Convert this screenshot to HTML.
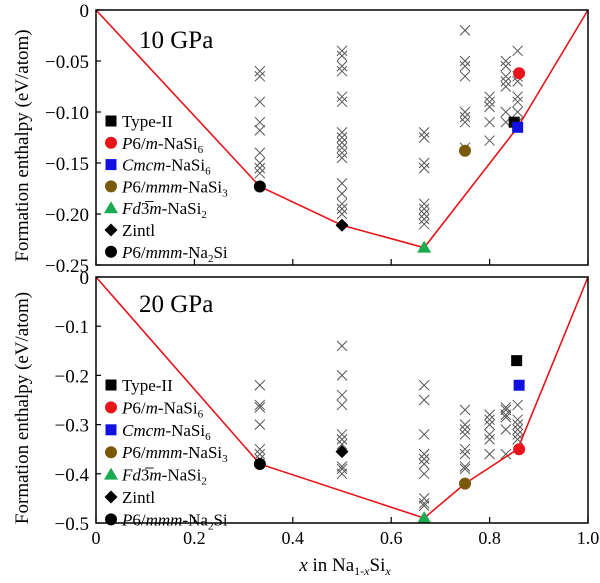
<!DOCTYPE html>
<html><head><meta charset="utf-8"><style>
body{margin:0;background:#fff;}
svg text{font-family:"Liberation Serif",serif;fill:#000;}
</style></head><body>
<svg id="c" width="600" height="578" xmlns="http://www.w3.org/2000/svg"></svg>
<script>
const NS="http://www.w3.org/2000/svg";
const xTicks=[0,0.2,0.4,0.6,0.8,1.0];
const xTickLabels=["0","0.2","0.4","0.6","0.8","1.0"];
const topTicks=[0,-0.05,-0.10,-0.15,-0.20,-0.25];
const topTickLabels=["0","\u22120.05","\u22120.10","\u22120.15","\u22120.20","\u22120.25"];
const botTicks=[0,-0.1,-0.2,-0.3,-0.4,-0.5];
const botTickLabels=["0","\u22120.1","\u22120.2","\u22120.3","\u22120.4","\u22120.5"];
const topHullX=[0,0.333,0.5,0.667,0.857,1];
const topHullY=[0,-0.173,-0.211,-0.233,-0.115,0];
const botHullX=[0,0.333,0.667,0.75,0.857,1];
const botHullY=[0,-0.38,-0.49,-0.42,-0.35,0];
const topCrossX=[0.333,0.5,0.667,0.75,0.8,0.833,0.857];
const topCrossY=[
[-0.06,-0.065,-0.09,-0.11,-0.118,-0.14,-0.15,-0.155,-0.16],
[-0.04,-0.045,-0.055,-0.06,-0.085,-0.09,-0.12,-0.125,-0.13,-0.135,-0.14,-0.145,-0.17,-0.18,-0.19,-0.195,-0.2],
[-0.12,-0.125,-0.15,-0.155,-0.19,-0.195,-0.2,-0.205,-0.21],
[-0.02,-0.05,-0.055,-0.065,-0.1,-0.105,-0.11,-0.135],
[-0.085,-0.09,-0.095,-0.11,-0.128],
[-0.05,-0.055,-0.065,-0.07,-0.075,-0.1,-0.11],
[-0.04,-0.065,-0.07,-0.085,-0.09,-0.1,-0.11]];
const botCrossX=[0.333,0.5,0.667,0.75,0.8,0.833,0.857];
const botCrossY=[
[-0.22,-0.26,-0.265,-0.3,-0.35,-0.36,-0.37],
[-0.14,-0.2,-0.24,-0.26,-0.32,-0.33,-0.34,-0.385,-0.39,-0.4],
[-0.22,-0.25,-0.32,-0.36,-0.37,-0.38,-0.4,-0.45,-0.46,-0.465],
[-0.27,-0.3,-0.31,-0.32,-0.35,-0.36,-0.385,-0.39],
[-0.28,-0.29,-0.3,-0.32,-0.33,-0.36],
[-0.265,-0.27,-0.28,-0.285,-0.31,-0.36],
[-0.26,-0.29,-0.3,-0.31,-0.32,-0.33]];
const topSpecialNames=["type-ii","p6m-nasi6","cmcm-nasi6","p6mmm-nasi3","fd3m-nasi2","zintl","p6mmm-na2si"];
const topSpecialX=[0.85,0.86,0.857,0.75,0.667,0.5,0.333];
const topSpecialY=[-0.11,-0.062,-0.115,-0.138,-0.233,-0.211,-0.173];
const botSpecialX=[0.855,0.86,0.86,0.75,0.667,0.5,0.333];
const botSpecialY=[-0.17,-0.35,-0.22,-0.42,-0.49,-0.355,-0.38];
const legendLabels=[
 'Type-II',
 '<tspan font-style="italic">P</tspan>6/<tspan font-style="italic">m</tspan>-NaSi<tspan font-size="11" dy="4">6</tspan>',
 '<tspan font-style="italic">Cmcm</tspan>-NaSi<tspan font-size="11" dy="4">6</tspan>',
 '<tspan font-style="italic">P</tspan>6/<tspan font-style="italic">mmm</tspan>-NaSi<tspan font-size="11" dy="4">3</tspan>',
 '<tspan font-style="italic">Fd</tspan>3\u0305<tspan font-style="italic">m</tspan>-NaSi<tspan font-size="11" dy="4">2</tspan>',
 'Zintl',
 '<tspan font-style="italic">P</tspan>6/<tspan font-style="italic">mmm</tspan>-Na<tspan font-size="11" dy="4">2</tspan><tspan dy="-4">Si</tspan>'];
const colors=["#000","#e8141a","#1010e0","#7a5a0a","#1aaa50","#000","#000"];
const shapes=["sq","ci","sq","ci","tri","dia","ci"];

const svg=document.getElementById('c');
const X0=96,X1=588;
const sx=v=>X0+v*(X1-X0);
function el(tag,attrs,parent){const e=document.createElementNS(NS,tag);for(const k in attrs)e.setAttribute(k,attrs[k]);(parent||svg).appendChild(e);return e;}

function marker(g,shape,x,y,col){
  if(shape==="sq") return el('rect',{x:x-5.5,y:y-5.5,width:11,height:11,fill:col},g);
  if(shape==="ci") return el('circle',{cx:x,cy:y,r:6,fill:col},g);
  if(shape==="tri") return el('polygon',{points:`${x},${y-7} ${x-7},${y+5} ${x+7},${y+5}`,fill:col},g);
  return el('polygon',{points:`${x},${y-6.5} ${x+6.5},${y} ${x},${y+6.5} ${x-6.5},${y}`,fill:col},g);
}

function panel(name,yTop,yBot,vMin,ticks,tickLabels,hx,hy,cx,cy,spX,spY,title,titleY,legendY0,legendDy,showXLabels){
  const g=el('g',{});
  
  
  const sy=v=>yTop+(v/vMin)*(yBot-yTop);
  const cg=el('g',{stroke:'#555','stroke-width':1},g);
  
  
  cx.forEach((xv,i)=>cy[i].forEach(v=>{
    const px=sx(xv),py=sy(v);
    const p=el('path',{d:`M${px-5},${py-5}L${px+5},${py+5}M${px+5},${py-5}L${px-5},${py+5}`},cg);
    
    
  }));
  const hl=el('polyline',{points:hx.map((v,i)=>sx(v)+','+sy(hy[i])).join(' '),fill:'none',stroke:'#e8141a','stroke-width':1.6},g);
  
  
  spX.forEach((xv,i)=>{
    const m=marker(g,shapes[i],sx(xv),sy(spY[i]),colors[i]);
    
    
  });
  const fr=el('rect',{x:X0,y:yTop,width:X1-X0,height:yBot-yTop,fill:'none',stroke:'#000','stroke-width':1.5},g);
  
  
  ticks.forEach((t,i)=>{
    const py=sy(t);
    el('line',{x1:X0,x2:X0+5,y1:py,y2:py,stroke:'#000','stroke-width':1.2},g);
    const tx=el('text',{x:X0-7,y:py+7,'text-anchor':'end','font-size':19},g);
    tx.textContent=tickLabels[i];
    
    
  });
  xTicks.forEach((t,i)=>{
    const px=sx(t);
    el('line',{x1:px,x2:px,y1:yBot,y2:yBot-6,stroke:'#000','stroke-width':1.2},g);
    if(showXLabels){
      const tx=el('text',{x:px,y:yBot+21,'text-anchor':'middle','font-size':18},g);
      tx.textContent=xTickLabels[i];
      
      
    }
  });
  const tt=el('text',{x:139,y:titleY,'font-size':25},g);
  tt.textContent=title;
  
  
  const yl=el('text',{x:0,y:0,'font-size':19,'text-anchor':'middle',transform:`translate(28,${(yTop+yBot)/2+8}) rotate(-90)`},g);
  yl.textContent='Formation enthalpy (eV/atom)';
  
  
  const lg=el('g',{},g);
  
  
  legendLabels.forEach((lab,i)=>{
    const ly=legendY0+i*legendDy;
    const m=marker(lg,shapes[i],111,ly,colors[i]);
    
    
    const t=el('text',{x:122,y:ly+6,'font-size':17},lg);
    t.innerHTML=lab;
    
    
  });
}
panel('top',10,265,-0.25,topTicks,topTickLabels,topHullX,topHullY,topCrossX,topCrossY,topSpecialX,topSpecialY,'10 GPa',48,121,21.8,false);
panel('bottom',277,523,-0.5,botTicks,botTickLabels,botHullX,botHullY,botCrossX,botCrossY,botSpecialX,botSpecialY,'20 GPa',312,385,22.4,true);
const xl=el('text',{x:345,y:571,'text-anchor':'middle','font-size':19});
xl.innerHTML='<tspan font-style="italic">x</tspan> in Na<tspan font-size="12" dy="4">1-<tspan font-style="italic">x</tspan></tspan><tspan dy="-4">Si</tspan><tspan font-size="12" dy="4" font-style="italic">x</tspan>';


</script>
</body></html>
